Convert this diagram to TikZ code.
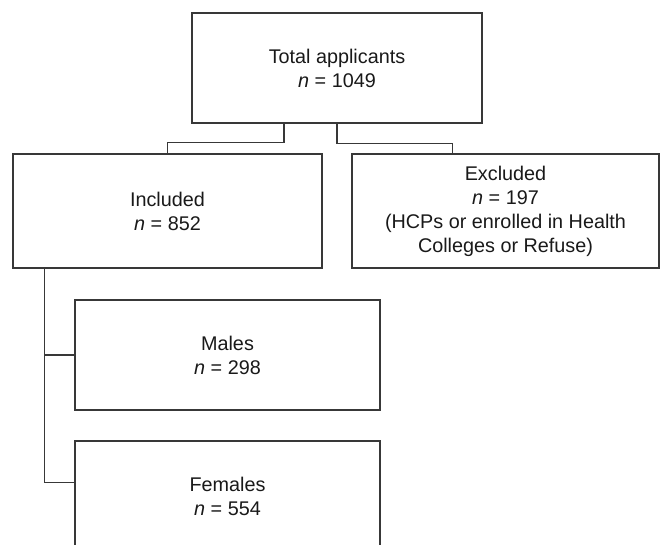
\documentclass[tikz,border=0pt]{standalone}
\usepackage{fontspec}
\setmainfont{Liberation Sans}
\usetikzlibrary{calc}
\tikzset{
  boxnode/.style={draw=black!78, line width=1.4pt, rectangle, inner sep=0pt,
    align=center, text=black!90,
    font=\fontsize{19.8}{24}\selectfont},
  link/.style={draw=black!78, line width=1.4pt}
}
\begin{document}
\begin{tikzpicture}[x=1pt,y=-1pt]
\clip (0,0) rectangle (660,544);
\useasboundingbox (0,0) rectangle (660,544);
\node[boxnode, minimum width=290, minimum height=110] (top) at (337,68)
  {Total applicants\\\textit{n} = 1049};
\node[boxnode, minimum width=309, minimum height=114] (inc) at (167.5,211)
  {Included\\\textit{n} = 852};
\node[boxnode, minimum width=307, minimum height=114] (exc) at (505.5,211)
  {Excluded\\\textit{n} = 197\\(HCPs or enrolled in Health\\Colleges or Refuse)};
\node[boxnode, minimum width=305, minimum height=110] (male) at (227.5,355)
  {Males\\\textit{n} = 298};
\node[boxnode, minimum width=305, minimum height=110] (fem) at (227.5,496)
  {Females\\\textit{n} = 554};
\coordinate (excin) at ($(exc.north west)+(101,0)$);
\coordinate (femin) at ($(fem.north west)+(0,42)$);
\coordinate (incout) at ($(inc.south west)+(32,0)$);
\draw[link] ($(top.south)+(-53,0)$) -- ++(0,19) -| (inc.north);
\draw[link] (top.south) -- ++(0,20) -| (excin);
\draw[link] (incout) |- (male.west);
\draw[link] (incout) |- (femin);
\end{tikzpicture}
\end{document}
